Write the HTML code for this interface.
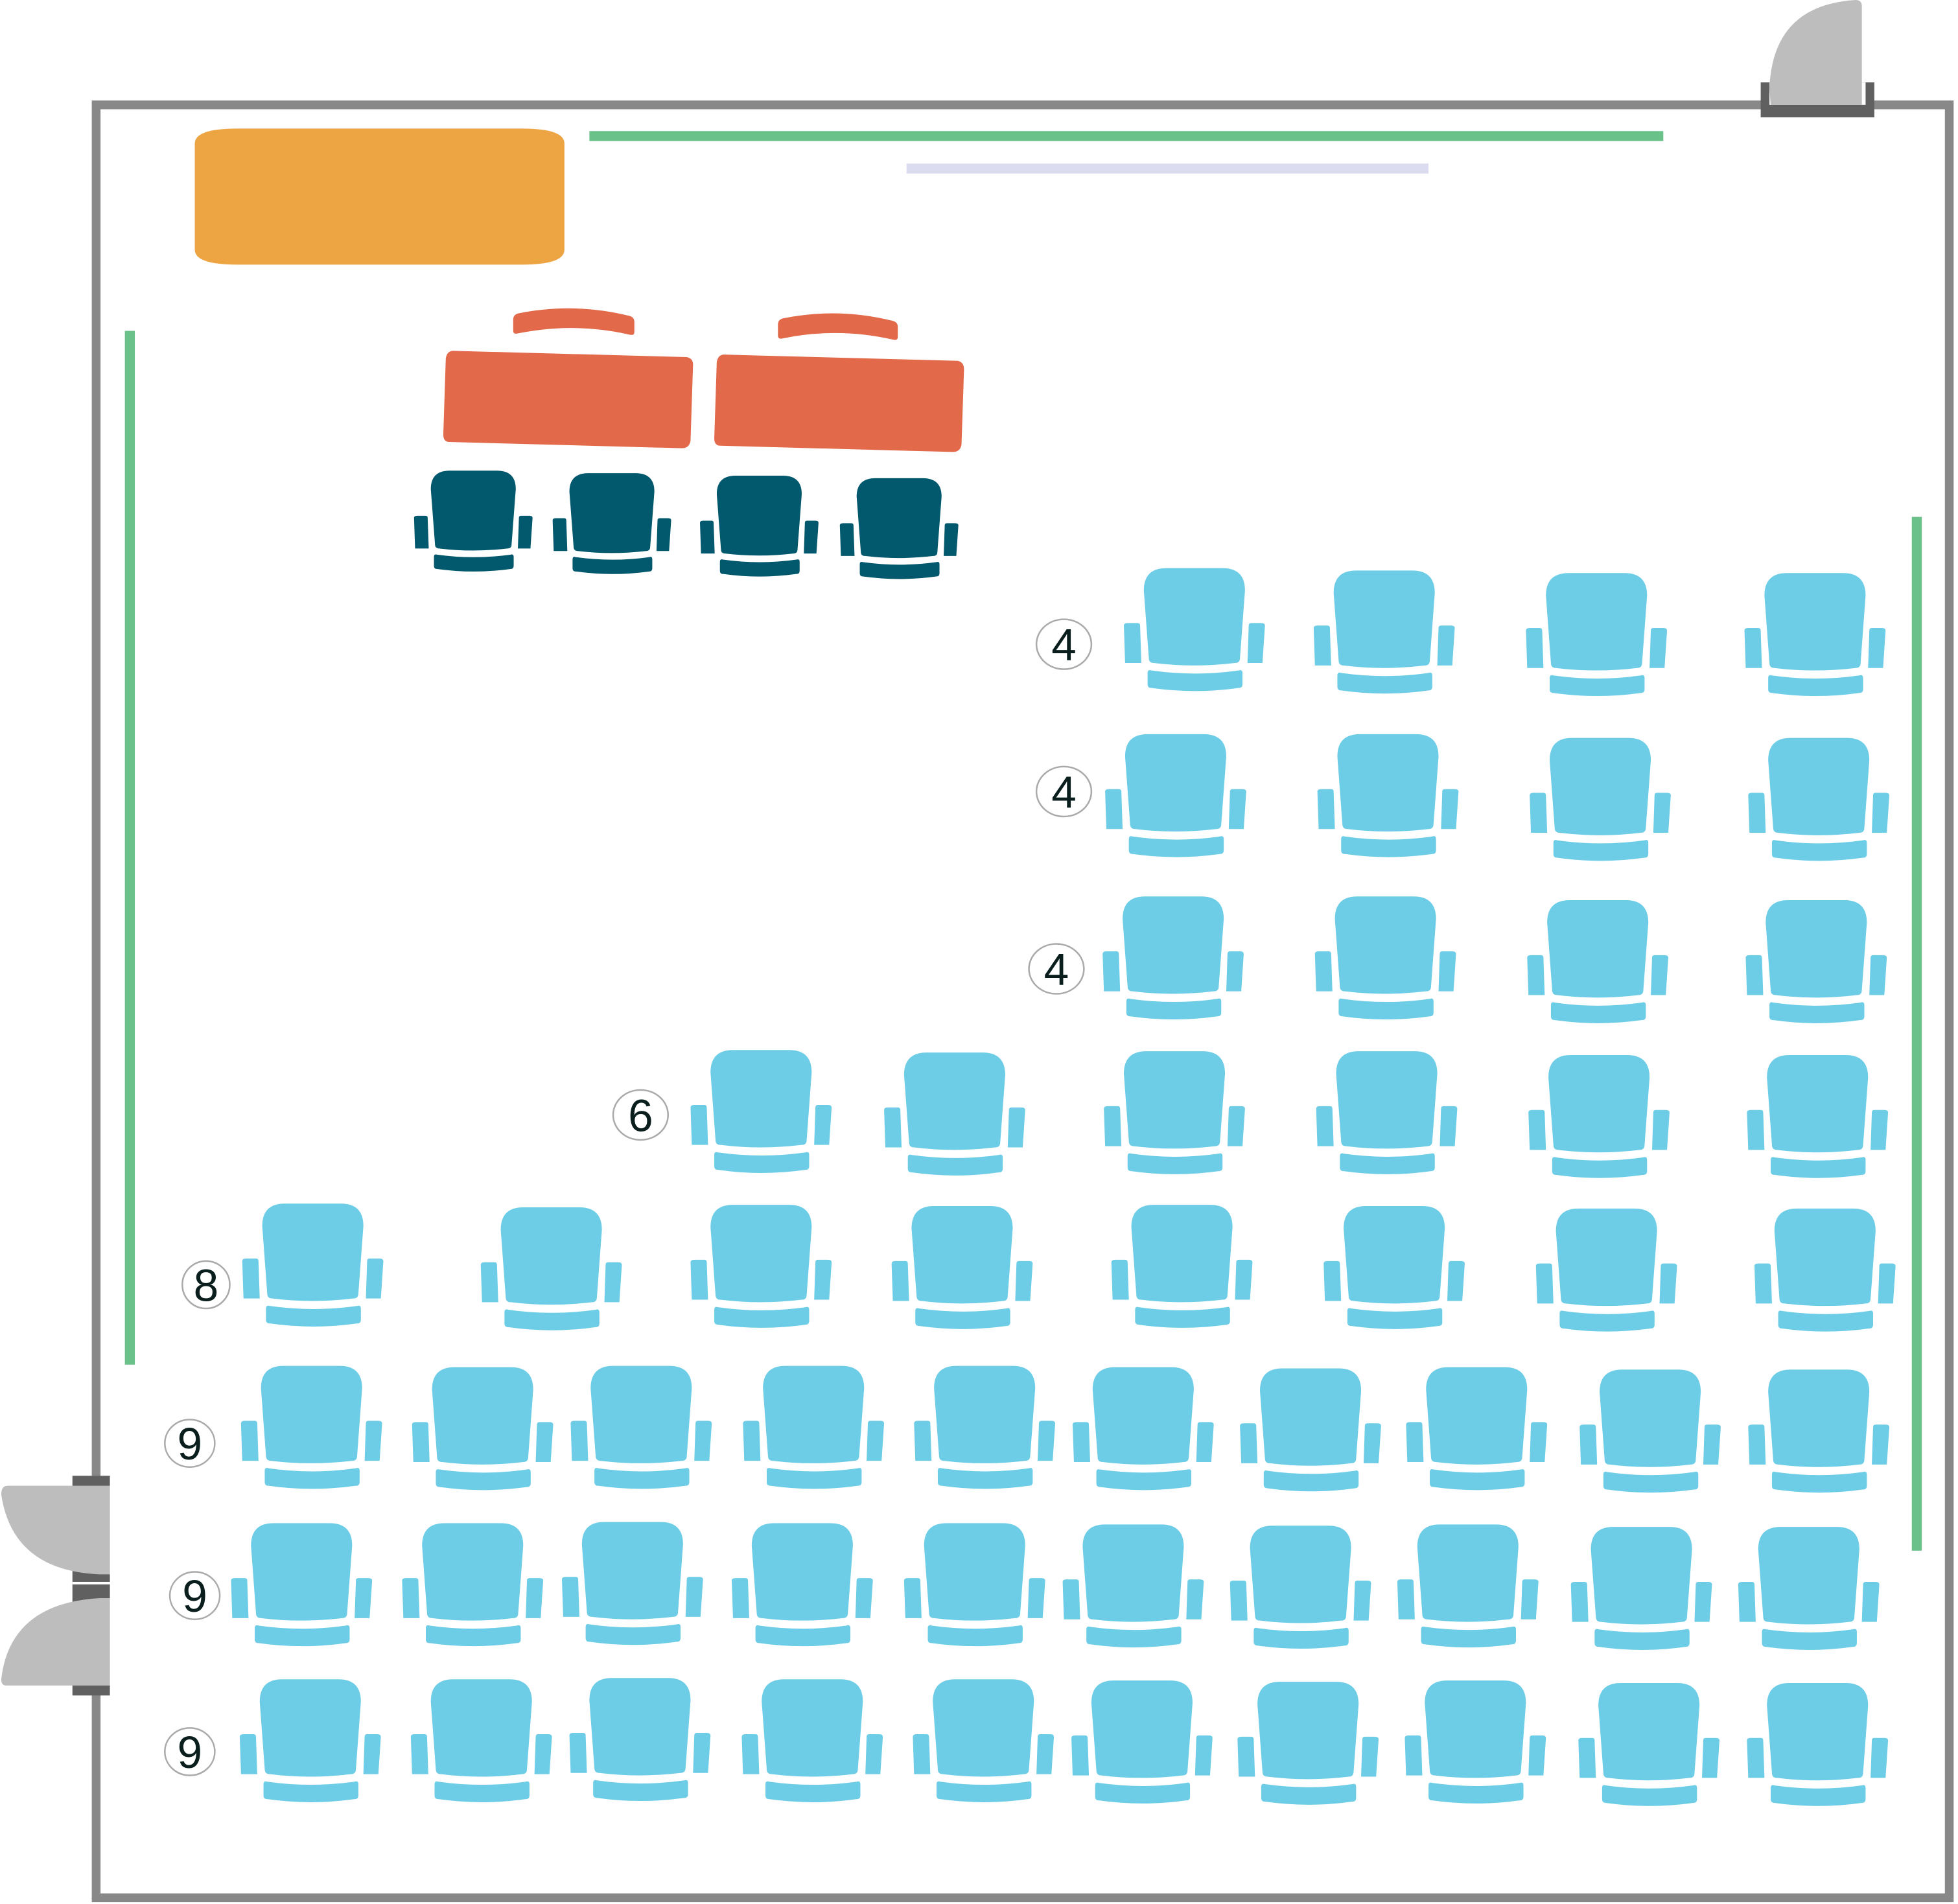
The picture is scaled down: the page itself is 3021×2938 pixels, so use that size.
<!DOCTYPE html>
<html><head><meta charset="utf-8"><style>html,body{margin:0;padding:0;background:#fff}svg{display:block}</style></head>
<body>
<svg width="3021" height="2938" viewBox="0 0 1568 1525" preserveAspectRatio="none" xmlns="http://www.w3.org/2000/svg">
<defs>
<g id="ch">
<path d="M0,18 Q0,0 18,0 H63 Q81,0 81,18 L77,72 Q77,76 73,76 Q40,80 8,76 Q4,76 4,72 Z"/>
<path d="M-16,46 Q-16,44 -13,44 H-5 Q-3,44 -3,46 L-2,76 H-15 Z"/>
<path d="M84,46 Q84,44 86,44 H94 Q97,44 97,46 L95,76 H83 Z"/>
<path d="M3,84 Q3,81 6,82 Q41,87 76,82 Q79,81 79,84 L79,93 Q79,96 76,96 Q41,101 6,96 Q3,96 3,93 Z"/>
</g>
</defs>
<rect width="1568" height="1525" fill="#fff"/>
<!-- walls -->
<rect x="77" y="84" width="1484" height="1436" fill="none" stroke="#888" stroke-width="7"/>
<!-- top right door -->
<rect x="1410" y="66" width="91" height="28" fill="#606060"/>
<rect x="1417" y="66" width="77" height="18" fill="#fff"/>
<path d="M1418,84 L1417,70 Q1420,4 1486,0 Q1491,0 1491,5 V84 Z" fill="#bdbdbd"/>
<!-- left doors -->
<rect x="58" y="1182" width="30" height="176" fill="#606060"/>
<rect x="58" y="1267" width="30" height="2" fill="#fff"/>
<path d="M88,1190 V1261 L80,1261 Q10,1258 1,1197 Q1,1190 6,1190 Z" fill="#bdbdbd"/>
<path d="M88,1280 V1350 H5 Q1,1350 1,1345 Q8,1284 80,1280 Z" fill="#bdbdbd"/>
<!-- orange -->
<path d="M156,115 Q156,103 190,103 H418 Q452,103 452,115 V200 Q452,212 418,212 H190 Q156,212 156,200 Z" fill="#EDA443"/>
<!-- lines -->
<rect x="472" y="105" width="860" height="8" fill="#6BC18A"/>
<rect x="726" y="131" width="418" height="8" fill="#DCDCF0"/>
<rect x="100" y="265" width="8" height="828" fill="#6BC18A"/>
<rect x="1531" y="414" width="8" height="828" fill="#6BC18A"/>
<!-- tables -->
<g fill="#E26A4A">
<path d="M363,281 L550,286 Q555,287 555,292 L553,353 Q552,359 546,359 L360,354 Q355,354 355,348 L357,287 Q358,281 363,281 Z"/>
<path d="M580,284 L767,289 Q772,290 772,296 L770,356 Q769,362 763,362 L577,357 Q572,357 572,351 L574,290 Q575,284 580,284 Z"/>
<path d="M411,256 Q411,252 415,251 Q460,242 504,253 Q508,254 508,258 V266 Q508,269 504,268 Q460,258 415,267 Q411,268 411,265 Z"/>
<path d="M623,260 Q623,256 627,255 Q671,246 715,257 Q719,258 719,262 V270 Q719,273 715,272 Q671,262 627,271 Q623,272 623,269 Z"/>
</g>
<!-- dark chairs -->
<g fill="#02586C">
<use href="#ch" transform="translate(345,377) scale(0.84,0.82)"/>
<use href="#ch" transform="translate(456,379) scale(0.84,0.82)"/>
<use href="#ch" transform="translate(574,381) scale(0.84,0.82)"/>
<use href="#ch" transform="translate(686,383) scale(0.84,0.82)"/>
</g>
<!-- blue chairs -->
<g fill="#6DCDE6">
<use href="#ch" x="916" y="455"/><use href="#ch" x="1068" y="457"/><use href="#ch" x="1238" y="459"/><use href="#ch" x="1413" y="459"/>
<use href="#ch" x="901" y="588"/><use href="#ch" x="1071" y="588"/><use href="#ch" x="1241" y="591"/><use href="#ch" x="1416" y="591"/>
<use href="#ch" x="899" y="718"/><use href="#ch" x="1069" y="718"/><use href="#ch" x="1239" y="721"/><use href="#ch" x="1414" y="721"/>
<use href="#ch" x="569" y="841"/><use href="#ch" x="724" y="843"/><use href="#ch" x="900" y="842"/><use href="#ch" x="1070" y="842"/><use href="#ch" x="1240" y="845"/><use href="#ch" x="1415" y="845"/>
<use href="#ch" x="210" y="964"/><use href="#ch" x="401" y="967"/><use href="#ch" x="569" y="965"/><use href="#ch" x="730" y="966"/><use href="#ch" x="906" y="965"/><use href="#ch" x="1076" y="966"/><use href="#ch" x="1246" y="968"/><use href="#ch" x="1421" y="968"/>
<use href="#ch" x="209" y="1094"/><use href="#ch" x="346" y="1095"/><use href="#ch" x="473" y="1094"/><use href="#ch" x="611" y="1094"/><use href="#ch" x="748" y="1094"/><use href="#ch" x="875" y="1095"/><use href="#ch" x="1009" y="1096"/><use href="#ch" x="1142" y="1095"/><use href="#ch" x="1281" y="1097"/><use href="#ch" x="1416" y="1097"/>
<use href="#ch" x="201" y="1220"/><use href="#ch" x="338" y="1220"/><use href="#ch" x="466" y="1219"/><use href="#ch" x="602" y="1220"/><use href="#ch" x="740" y="1220"/><use href="#ch" x="867" y="1221"/><use href="#ch" x="1001" y="1222"/><use href="#ch" x="1135" y="1221"/><use href="#ch" x="1274" y="1223"/><use href="#ch" x="1408" y="1223"/>
<use href="#ch" x="208" y="1345"/><use href="#ch" x="345" y="1345"/><use href="#ch" x="472" y="1344"/><use href="#ch" x="610" y="1345"/><use href="#ch" x="747" y="1345"/><use href="#ch" x="874" y="1346"/><use href="#ch" x="1007" y="1347"/><use href="#ch" x="1141" y="1346"/><use href="#ch" x="1280" y="1348"/><use href="#ch" x="1415" y="1348"/>
</g>
<!-- labels -->
<g fill="#fff" stroke="#aaa" stroke-width="1.3">
<ellipse cx="852" cy="516" rx="22" ry="20"/><ellipse cx="852" cy="634" rx="22" ry="20"/><ellipse cx="846" cy="776" rx="22" ry="20"/>
<ellipse cx="513" cy="893" rx="22" ry="20"/><ellipse cx="165" cy="1029" rx="19" ry="19"/>
<ellipse cx="152" cy="1156" rx="20" ry="19"/><ellipse cx="156" cy="1278" rx="20" ry="19"/><ellipse cx="152" cy="1403" rx="20" ry="19"/>
</g>
<g font-family="Liberation Sans, sans-serif" font-size="36" fill="#0a1e1e" text-anchor="middle">
<text x="852" y="529">4</text><text x="852" y="647">4</text><text x="846" y="789">4</text>
<text x="513" y="906">6</text><text x="165" y="1042">8</text>
<text x="152" y="1169">9</text><text x="156" y="1291">9</text><text x="152" y="1416">9</text>
</g>
</svg>
</body></html>
